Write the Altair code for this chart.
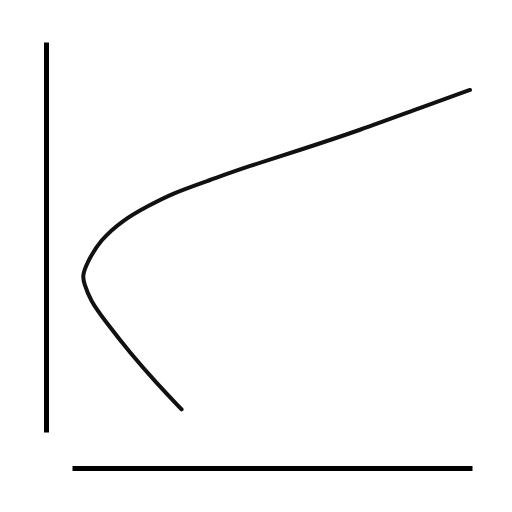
import altair as alt
import pandas as pd

# Sketched curve (risk vs return style)
risk = [27.4, 21.2, 14.5, 8.7, 4.5, 3.0, 2.6, 3.7, 7.0, 12.8, 18.7, 25.3, 34.5, 43.7, 57.0, 72.0, 87.0, 99.5]
ret = [5.8, 12.5, 20.3, 27.9, 33.8, 38.2, 40.0, 43.3, 49.2, 54.4, 57.8, 61.3, 64.6, 68.0, 72.3, 77.4, 83.1, 87.7]
order = list(range(len(risk)))

df = pd.DataFrame({"risk": risk, "ret": ret, "order": order})

chart = alt.Chart(df).mark_line(
    color="#111111", strokeWidth=4, interpolate="basis", strokeCap="round"
).encode(
    x=alt.X("risk:Q", scale=alt.Scale(domain=[0, 100], nice=False, zero=False),
            axis=alt.Axis(title=None, labels=False, ticks=False, grid=False,
                          domainColor="#000000", domainWidth=5, offset=36)),
    y=alt.Y("ret:Q", scale=alt.Scale(domain=[0, 100], nice=False, zero=False),
            axis=alt.Axis(title=None, labels=False, ticks=False, grid=False,
                          domainColor="#000000", domainWidth=5, offset=26)),
    order="order:O",
).properties(
    width=400, height=390,
    background="white",
    autosize=alt.AutoSizeParams(type="none"),
    padding={"left": 64, "top": 34, "right": 32, "bottom": 72},
).configure_view(strokeWidth=0, stroke=None)

chart.save("out.html", embed_options={"renderer": "svg", "actions": False})
